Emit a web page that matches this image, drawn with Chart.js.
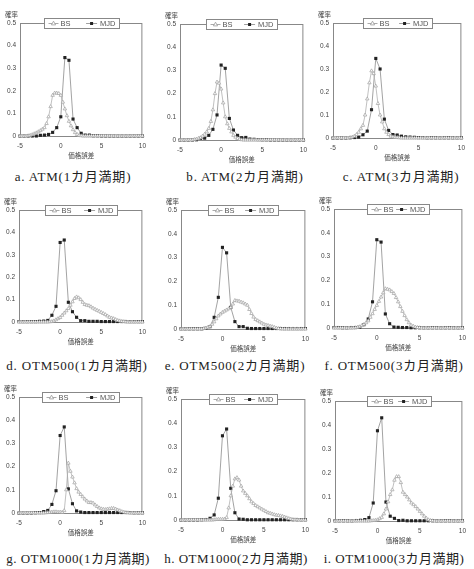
<!DOCTYPE html>
<html lang="ja">
<head>
<meta charset="utf-8">
<title>価格誤差の分布</title>
<script src="https://cdn.jsdelivr.net/npm/chart.js@4.4.1/dist/chart.umd.min.js"></script>
<style>
  body { margin: 0; background: #fff; }
  #page { position: relative; width: 474px; height: 569px; overflow: hidden; }
  .panel { position: absolute; }
  .caption {
    position: absolute; width: 180px; text-align: center; white-space: nowrap;
    font-family: "Liberation Serif", "Noto Sans CJK JP", serif;
    font-size: 13px; letter-spacing: 0.8px; line-height: 16px; color: #222;
  }
  .caption.long { letter-spacing: 0.5px; }
</style>
</head>
<body>
<div id="page"></div>
<script>
// 価格誤差 (x)
const xBS = [-5,-4.75,-4.5,-4.25,-4,-3.75,-3.5,-3.25,-3,-2.75,-2.5,-2.25,-2,-1.75,-1.5,-1.25,
  -1,-0.75,-0.5,-0.25,0,0.25,0.5,0.75,1,1.25,1.5,1.75,2,2.25,2.5,2.75,3,3.25,3.5,3.75,
  4,4.25,4.5,4.75,5,5.25,5.5,5.75,6,6.25,6.5,6.75,7,7.25,7.5,7.75,8,8.25,8.5,8.75,
  9,9.25,9.5,9.75,10];
const xMJD = [-5,-4.5,-4,-3.5,-3,-2.5,-2,-1.5,-1,-0.5,0,0.5,1,1.5,2,2.5,3,3.5,4,4.5,
  5,5.5,6,6.5,7,7.5,8,8.5,9,9.5,10];

const xTicks = [-5, 0, 5, 10];
const yTicks = [0, 0.1, 0.2, 0.3, 0.4, 0.5];

// BS (確率)
const bsA = [0,0,0,0, 0.001,0.003,0.006,0.01, 0.014,0.019,0.024,0.03, 0.037,0.055,0.085,0.13,
  0.18,0.19,0.19,0.188, 0.18,0.15,0.12,0.09, 0.065,0.045,0.028,0.015, 0.007,0.003,0.001,0,
  0,0,0,0, 0,0,0,0, 0,0,0,0, 0,0,0,0, 0,0,0,0, 0,0,0,0, 0,0,0,0, 0];
const bsB = [0,0,0,0, 0,0,0,0.002, 0.004,0.007,0.01,0.017, 0.025,0.035,0.05,0.08,
  0.13,0.2,0.25,0.245, 0.22,0.16,0.1,0.07, 0.05,0.035,0.02,0.012, 0.006,0.003,0.001,0,
  0,0,0,0, 0,0,0,0, 0,0,0,0, 0,0,0,0, 0,0,0,0, 0,0,0,0, 0,0,0,0, 0];
const bsC = [0,0,0,0, 0,0,0,0, 0.002,0.004,0.008,0.015, 0.025,0.04,0.055,0.1,
  0.17,0.24,0.292,0.28, 0.226,0.15,0.1,0.07, 0.04,0.025,0.015,0.008, 0.005,0.003,0.002,0.001,
  0,0,0,0, 0,0,0,0, 0,0,0,0, 0,0,0,0, 0,0,0,0, 0,0,0,0, 0,0,0,0, 0];
const bsD = [0,0,0,0, 0,0,0,0, 0,0,0,0, 0,0,0,0.001,
  0.002,0.005,0.01,0.015, 0.02,0.03,0.04,0.05, 0.06,0.075,0.09,0.105, 0.112,0.108,0.1,0.088,
  0.078,0.075,0.073,0.068, 0.062,0.057,0.052,0.048, 0.043,0.038,0.033,0.027, 0.021,0.018,0.015,0.011,
  0.007,0.005,0.003,0.002, 0.001,0,0,0, 0,0,0,0, 0];
const bsE = [0,0,0,0, 0,0,0,0, 0,0,0,0.002, 0.004,0.007,0.01,0.02,
  0.03,0.043,0.055,0.063, 0.07,0.075,0.08,0.085, 0.09,0.105,0.12,0.118, 0.117,0.113,0.11,0.105,
  0.1,0.082,0.065,0.05, 0.04,0.035,0.03,0.025, 0.02,0.017,0.015,0.012, 0.01,0.007,0.004,0.002,
  0.001,0,0,0, 0,0,0,0, 0,0,0,0, 0];
const bsF = [0,0,0,0, 0,0,0,0, 0,0,0.001,0.003, 0.005,0.01,0.015,0.022,
  0.03,0.045,0.06,0.078, 0.095,0.112,0.13,0.148, 0.165,0.163,0.16,0.153, 0.145,0.128,0.11,0.09,
  0.07,0.052,0.035,0.022, 0.012,0.008,0.004,0.002, 0.001,0,0,0, 0,0,0,0,
  0,0,0,0, 0,0,0,0, 0,0,0,0, 0];
const bsG = [0,0,0,0, 0,0,0,0, 0,0,0,0, 0,0.001,0.002,0.003,
  0.004,0.005,0.005,0.004, 0.004,0.003,0.01,0.1, 0.215,0.18,0.155,0.13, 0.105,0.09,0.08,0.07,
  0.06,0.052,0.045,0.045, 0.043,0.035,0.028,0.022, 0.018,0.016,0.015,0.017, 0.018,0.02,0.02,0.017,
  0.013,0.01,0.006,0.004, 0.002,0.001,0,0, 0,0,0,0, 0];
const bsH = [0,0,0,0, 0,0,0,0, 0,0,0,0, 0,0,0,0,
  0.001,0.002,0.003,0.003, 0.003,0.004,0.01,0.05, 0.1,0.14,0.17,0.175, 0.165,0.14,0.12,0.11,
  0.1,0.088,0.075,0.068, 0.06,0.055,0.05,0.045, 0.04,0.035,0.03,0.028, 0.025,0.022,0.02,0.019,
  0.017,0.015,0.012,0.009, 0.006,0.004,0.002,0.001, 0.001,0,0,0, 0];
const bsI = [0,0,0,0, 0,0,0,0, 0,0,0,0, 0,0,0,0,
  0,0.001,0.002,0.003, 0.005,0.01,0.015,0.03, 0.05,0.08,0.11,0.13, 0.17,0.185,0.185,0.16,
  0.12,0.11,0.1,0.088, 0.075,0.068,0.06,0.05, 0.04,0.03,0.02,0.012, 0.005,0.002,0.001,0,
  0,0,0,0, 0,0,0,0, 0,0,0,0, 0];

// MJD (確率)
const mjdA = [0,0,0,0,0, 0.003,0.004,0.007,0.016,0.037, 0.085,0.347,0.335,0.075,0.037,
  0.012,0.004,0.004,0.001,0.001, 0,0,0,0,0, 0,0,0,0,0, 0];
const mjdB = [0,0,0,0,0.001, 0.007,0.008,0.02,0.046,0.108, 0.323,0.309,0.093,0.043,0.02,
  0.01,0.011,0.004,0.003,0.002, 0.001,0.001,0,0,0, 0,0,0,0,0, 0];
const mjdC = [0,0,0,0,0.001, 0.002,0.004,0.014,0.03,0.123, 0.346,0.3,0.082,0.033,0.015,
  0.013,0.008,0.005,0.004,0.003, 0.002,0.002,0.001,0.001,0.001, 0.001,0.001,0.001,0.001,0.001, 0.001];
const mjdD = [0.002,0.002,0.002,0.002,0.002, 0.003,0.004,0.007,0.03,0.07, 0.355,0.366,0.088,0.046,0.021,
  0.006,0.006,0.003,0.003,0.003, 0.002,0.002,0.002,0.002,0.002, 0.002,0.002,0.002,0.002,0.002, 0.002];
const mjdE = [0.001,0.001,0.001,0.001,0.001, 0.001,0.003,0.01,0.049,0.133, 0.343,0.32,0.091,0.031,0.01,
  0.01,0.003,0.002,0.002,0.002, 0.002,0.002,0.002,0.002,0.002, 0.002,0.002,0.002,0.002,0.002, 0.002];
const mjdF = [0.002,0.002,0.001,0.001,0.002, 0.002,0.003,0.014,0.038,0.11, 0.371,0.361,0.059,0.018,0.004,
  0.003,0.002,0.002,0.001,0.001, 0.001,0.001,0.001,0.001,0.001, 0.001,0.001,0.001,0.001,0.001, 0.001];
const mjdG = [0,0,0,0,0.001, 0.002,0.006,0.011,0.037,0.096, 0.334,0.371,0.104,0.04,0.009,
  0.004,0.002,0.002,0.002,0.002, 0.002,0.002,0.002,0.002,0.002, 0.002,0.002,0.002,0.001,0.001, 0.001];
const mjdH = [0,0,0,0,0, 0.001,0.002,0.007,0.021,0.09, 0.348,0.376,0.131,0.03,0.004,
  0.003,0.001,0.001,0.001,0.001, 0.001,0.001,0.001,0.001,0.001, 0.001,0.001,0.001,0.001,0.001, 0.001];
const mjdI = [0.001,0.001,0.001,0.001,0.001, 0.002,0.003,0.006,0.014,0.075, 0.376,0.43,0.079,0.02,0.011,
  0.002,0.003,0.001,0.001,0.001, 0.001,0.001,0.001,0.001,0.001, 0.001,0.001,0.001,0.001,0.001, 0.001];

const captions = ['a. ATM(1カ月満期)', 'b. ATM(2カ月満期)', 'c. ATM(3カ月満期)',
  'd. OTM500(1カ月満期)', 'e. OTM500(2カ月満期)', 'f. OTM500(3カ月満期)',
  'g. OTM1000(1カ月満期)', 'h. OTM1000(2カ月満期)', 'i. OTM1000(3カ月満期)'];

// 配置 (plot area: left, top, right, bottom / legend width / caption center)
const panels = [
  { bs: bsA, mjd: mjdA, area: [20, 23, 144, 136], lw: 75, cap: [73, 177] },
  { bs: bsB, mjd: mjdB, area: [180, 24, 305, 140], lw: 71, cap: [245, 177] },
  { bs: bsC, mjd: mjdC, area: [333, 23, 463, 138], lw: 69, cap: [401, 177] },
  { bs: bsD, mjd: mjdD, area: [19, 210, 144, 322], lw: 72, cap: [77, 366] },
  { bs: bsE, mjd: mjdE, area: [181, 210, 307, 329], lw: 70, cap: [235, 366] },
  { bs: bsF, mjd: mjdF, area: [334, 209, 464, 328], lw: 62, cap: [394, 366] },
  { bs: bsG, mjd: mjdG, area: [19, 397, 144, 513], lw: 77, cap: [78, 559] },
  { bs: bsH, mjd: mjdH, area: [181, 399, 307, 520], lw: 68, cap: [236, 559] },
  { bs: bsI, mjd: mjdI, area: [335, 401, 464, 521], lw: 64, cap: [394, 559] }
];

const PAD_L = 19, PAD_T = 18, PAD_R = 8, PAD_B = 24;
const FONT = '"Liberation Sans", "Noto Sans CJK JP", sans-serif';

Chart.defaults.font.family = FONT;
Chart.defaults.font.size = 6.5;
Chart.defaults.color = '#444';

function drawTriangle(ctx, x, y) {
  ctx.beginPath();
  ctx.moveTo(x, y - 2.3);
  ctx.lineTo(x + 2.1, y + 1.4);
  ctx.lineTo(x - 2.1, y + 1.4);
  ctx.closePath();
  ctx.fillStyle = '#fff';
  ctx.fill();
  ctx.strokeStyle = '#999';
  ctx.lineWidth = 0.8;
  ctx.stroke();
}

// 枠線
const framePlugin = {
  id: 'frame',
  beforeDatasetsDraw(chart) {
    const { ctx, chartArea: a } = chart;
    ctx.save();
    ctx.strokeStyle = '#888';
    ctx.lineWidth = 1;
    ctx.strokeRect(a.left + 0.5, a.top + 0.5, a.right - a.left - 1, a.bottom - a.top);
    ctx.restore();
  }
};

// 凡例と「確率」
const legendPlugin = {
  id: 'boxLegend',
  afterDraw(chart, args, opts) {
    const { ctx, chartArea: a } = chart;
    const w = opts.width;
    const x0 = Math.round((a.left + a.right) / 2 - w / 2) + 0.5;
    const cy = a.top + 0.5;
    ctx.save();
    ctx.fillStyle = '#fff';
    ctx.fillRect(x0, cy - 5, w, 10);
    ctx.strokeStyle = '#888';
    ctx.lineWidth = 1;
    ctx.strokeRect(x0, cy - 5, w, 10);

    ctx.font = '7.5px ' + FONT;
    ctx.textBaseline = 'middle';
    // BS
    ctx.strokeStyle = '#aaa';
    ctx.beginPath();
    ctx.moveTo(x0 + 4, cy);
    ctx.lineTo(x0 + 14, cy);
    ctx.stroke();
    drawTriangle(ctx, x0 + 9, cy);
    ctx.fillStyle = '#555';
    ctx.textAlign = 'left';
    ctx.fillText('BS', x0 + 16, cy + 0.5);
    // MJD
    ctx.textAlign = 'right';
    const tx = x0 + w - 4;
    const tw = ctx.measureText('MJD').width;
    ctx.fillText('MJD', tx, cy + 0.5);
    const sx = tx - tw - 3;
    ctx.strokeStyle = '#888';
    ctx.beginPath();
    ctx.moveTo(sx - 11, cy);
    ctx.lineTo(sx, cy);
    ctx.stroke();
    ctx.fillStyle = '#222';
    ctx.fillRect(sx - 7, cy - 1.5, 3, 3);

    // 確率
    ctx.font = '6.5px ' + FONT;
    ctx.fillStyle = '#444';
    ctx.textAlign = 'left';
    ctx.fillText('確率', a.left - 15, a.top - 8);
    ctx.restore();
  }
};

function makePanel(p, i) {
  const [l, t, r, b] = p.area;
  const W = r - l + PAD_L + PAD_R;
  const H = b - t + PAD_T + PAD_B;
  const page = document.getElementById('page');

  const div = document.createElement('div');
  div.className = 'panel';
  div.style.left = (l - PAD_L) + 'px';
  div.style.top = (t - PAD_T) + 'px';
  const canvas = document.createElement('canvas');
  canvas.width = W;
  canvas.height = H;
  div.appendChild(canvas);
  page.appendChild(div);

  const cap = document.createElement('div');
  cap.className = i >= 6 ? 'caption long' : 'caption';
  cap.textContent = captions[i];
  cap.style.left = (p.cap[0] - 90) + 'px';
  cap.style.top = (p.cap[1] - 8) + 'px';
  page.appendChild(cap);

  const bsPoints = xBS.map((x, k) => ({ x: x, y: p.bs[k] }));
  const mjdPoints = xMJD.map((x, k) => ({ x: x, y: p.mjd[k] }));

  new Chart(canvas.getContext('2d'), {
    type: 'scatter',
    data: {
      datasets: [
        {
          label: 'BS',
          data: bsPoints,
          showLine: true,
          borderColor: '#b0b0b0',
          borderWidth: 0.8,
          pointStyle: 'triangle',
          pointRadius: 2,
          pointBackgroundColor: '#fff',
          pointBorderColor: '#a0a0a0',
          pointBorderWidth: 0.7,
          clip: false
        },
        {
          label: 'MJD',
          data: mjdPoints,
          showLine: true,
          borderColor: '#8c8c8c',
          borderWidth: 0.8,
          pointStyle: 'rect',
          pointRadius: 2.2,
          pointBackgroundColor: '#222',
          pointBorderColor: '#222',
          pointBorderWidth: 0,
          clip: false
        }
      ]
    },
    options: {
      responsive: false,
      animation: false,
      events: [],
      layout: { padding: { top: PAD_T, right: PAD_R, left: 0, bottom: 0 } },
      plugins: {
        legend: { display: false },
        tooltip: { enabled: false },
        boxLegend: { width: p.lw }
      },
      scales: {
        x: {
          type: 'linear',
          min: -5,
          max: 10,
          grid: { display: false, drawTicks: false },
          border: { display: false },
          ticks: { padding: 6, maxRotation: 0 },
          afterBuildTicks: s => { s.ticks = xTicks.map(v => ({ value: v })); },
          afterFit: s => { s.height = PAD_B; },
          title: { display: true, text: '価格誤差', padding: 0, font: { size: 6.5 } }
        },
        y: {
          min: 0,
          max: 0.5,
          grid: { display: false, drawTicks: false },
          border: { display: false },
          ticks: { padding: 4 },
          afterBuildTicks: s => { s.ticks = yTicks.map(v => ({ value: v })); },
          afterFit: s => { s.width = PAD_L; }
        }
      }
    },
    plugins: [framePlugin, legendPlugin]
  });
}

document.addEventListener('DOMContentLoaded', () => {
  panels.forEach(makePanel);
});
</script>
</body>
</html>
